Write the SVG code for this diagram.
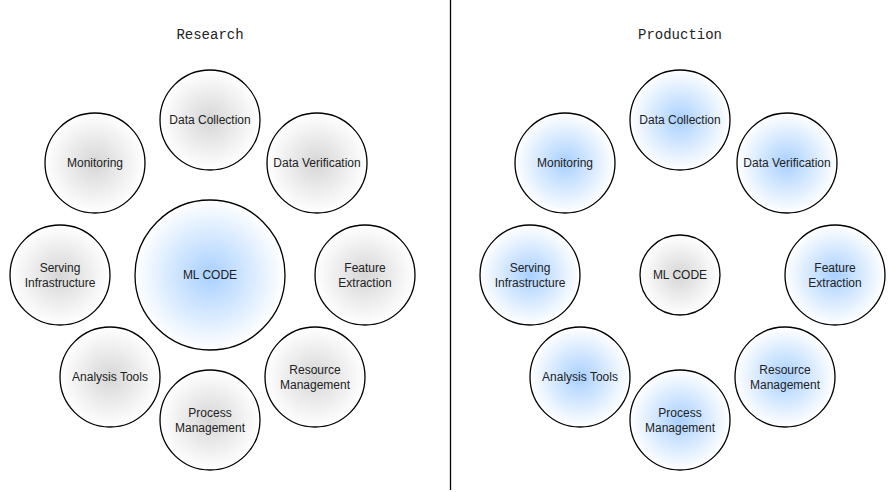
<svg xmlns="http://www.w3.org/2000/svg" width="891" height="492" viewBox="0 0 891 492">
<defs>
<radialGradient id="gGray" cx="50%" cy="50%" r="50%">
<stop offset="0" stop-color="#d6d6d6"/>
<stop offset="1" stop-color="#ffffff"/>
</radialGradient>
<radialGradient id="gBlue" cx="50%" cy="50%" r="50%">
<stop offset="0" stop-color="#a8d0ff"/>
<stop offset="1" stop-color="#ffffff"/>
</radialGradient>
</defs>
<style>
.g{fill:url(#gGray);stroke:#000;stroke-width:1.3}
.b{fill:url(#gBlue);stroke:#000;stroke-width:1.3}
text{font-family:"Liberation Sans",Arial,Helvetica,sans-serif;font-size:12px;fill:#222;text-anchor:middle}
.title{font-family:"Liberation Mono","DejaVu Sans Mono",monospace;font-size:14px;fill:#222}
</style>
<rect width="891" height="492" fill="#fff"/>
<g id="connectors">
<line x1="450.5" y1="0" x2="450.5" y2="490" stroke="#000" stroke-width="1.3"/>
</g>
<text class="title" x="210" y="39">Research</text>
<text class="title" x="680" y="39">Production</text>

<g id="r-ml"><circle class="b" cx="210" cy="275" r="75"/><text x="210" y="279">ML CODE</text></g>
<g id="r-dc"><circle class="g" cx="210" cy="120" r="50"/><text x="210" y="124">Data Collection</text></g>
<g id="r-dv"><circle class="g" cx="317" cy="163" r="50"/><text x="317" y="167">Data Verification</text></g>
<g id="r-mo"><circle class="g" cx="95" cy="163" r="50"/><text x="95" y="167">Monitoring</text></g>
<g id="r-si"><circle class="g" cx="60" cy="275" r="50"/><text x="60" y="272">Serving</text><text x="60" y="287">Infrastructure</text></g>
<g id="r-fe"><circle class="g" cx="365" cy="275" r="50"/><text x="365" y="272">Feature</text><text x="365" y="287">Extraction</text></g>
<g id="r-at"><circle class="g" cx="110" cy="377" r="50"/><text x="110" y="381">Analysis Tools</text></g>
<g id="r-rm"><circle class="g" cx="315" cy="377" r="50"/><text x="315" y="374">Resource</text><text x="315" y="389">Management</text></g>
<g id="r-pm"><circle class="g" cx="210" cy="420" r="50"/><text x="210" y="417">Process</text><text x="210" y="432">Management</text></g>

<g id="p-ml"><circle class="g" cx="680" cy="275" r="40"/><text x="680" y="279">ML CODE</text></g>
<g id="p-dc"><circle class="b" cx="680" cy="120" r="50"/><text x="680" y="124">Data Collection</text></g>
<g id="p-dv"><circle class="b" cx="787" cy="163" r="50"/><text x="787" y="167">Data Verification</text></g>
<g id="p-mo"><circle class="b" cx="565" cy="163" r="50"/><text x="565" y="167">Monitoring</text></g>
<g id="p-si"><circle class="b" cx="530" cy="275" r="50"/><text x="530" y="272">Serving</text><text x="530" y="287">Infrastructure</text></g>
<g id="p-fe"><circle class="b" cx="835" cy="275" r="50"/><text x="835" y="272">Feature</text><text x="835" y="287">Extraction</text></g>
<g id="p-at"><circle class="b" cx="580" cy="377" r="50"/><text x="580" y="381">Analysis Tools</text></g>
<g id="p-rm"><circle class="b" cx="785" cy="377" r="50"/><text x="785" y="374">Resource</text><text x="785" y="389">Management</text></g>
<g id="p-pm"><circle class="b" cx="680" cy="420" r="50"/><text x="680" y="417">Process</text><text x="680" y="432">Management</text></g>
</svg>
